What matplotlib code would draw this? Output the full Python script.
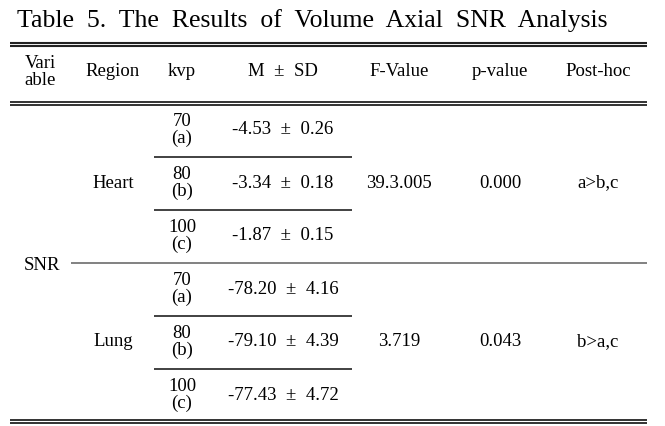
import matplotlib.pyplot as plt

# table contents
headers = ["Vari\nable", "Region", "kvp", "M  \u00b1  SD", "F-Value", "p-value", "Post-hoc"]
variable = "SNR"
regions = ["Heart", "Lung"]
kvp = ["70\n(a)", "80\n(b)", "100\n(c)"]
means = [[-4.53, -3.34, -1.87], [-78.20, -79.10, -77.43]]
sds = [[0.26, 0.18, 0.15], [4.16, 4.39, 4.72]]
f_values = ["39.3.005", "3.719"]
p_values = ["0.000", "0.043"]
posthoc = ["a>b,c", "b>a,c"]

plt.rcParams['font.family'] = ['Liberation Serif', 'DejaVu Serif']

fig = plt.figure(figsize=(6.65, 4.26), dpi=100)
ax = fig.add_axes([0, 0, 1, 1])
ax.set_xlim(0, 665)
ax.set_ylim(426, 0)
ax.axis('off')

col_x = [40, 113, 182, 283, 399, 500, 598]
fs = 13.5

ax.text(312, 21, "Table  5.  The  Results  of  Volume  Axial  SNR  Analysis",
        ha='center', va='center', fontsize=18.5)

# double rules
for y in (42.5, 46):
    ax.plot([10, 647], [y, y], color='#222222', lw=1.5, solid_capstyle='butt')
for y in (101.5, 105):
    ax.plot([10, 647], [y, y], color='#222222', lw=1.3, solid_capstyle='butt')
for y in (419.5, 423):
    ax.plot([10, 647], [y, y], color='#222222', lw=1.3, solid_capstyle='butt')

# header
for x, h in zip(col_x, headers):
    ax.text(x, 72, h, ha='center', va='center', fontsize=fs, linespacing=0.95)

row_h = 53
starts = [130, 289]
for g in range(2):
    for i in range(3):
        y = starts[g] + i * row_h
        ax.text(col_x[2], y, kvp[i], ha='center', va='center', fontsize=fs, linespacing=0.95)
        ax.text(col_x[3], y, f"{means[g][i]:.2f}  \u00b1  {sds[g][i]:.2f}",
                ha='center', va='center', fontsize=fs)
        if i < 2:
            yl = y + row_h / 2
            ax.plot([154, 352], [yl, yl], color='#333333', lw=1.3, solid_capstyle='butt')
    yc = starts[g] + row_h
    ax.text(col_x[1], yc, regions[g], ha='center', va='center', fontsize=fs)
    ax.text(col_x[4], yc, f_values[g], ha='center', va='center', fontsize=fs)
    ax.text(col_x[5], yc, p_values[g], ha='center', va='center', fontsize=fs)
    ax.text(col_x[6], yc, posthoc[g], ha='center', va='center', fontsize=fs)

# SNR divider
ax.plot([71, 647], [263, 263], color='#777777', lw=1.3, solid_capstyle='butt')
ax.text(col_x[0] + 2, 265, variable, ha='center', va='center', fontsize=fs)

fig.savefig('out.png', dpi=100, facecolor='white')
